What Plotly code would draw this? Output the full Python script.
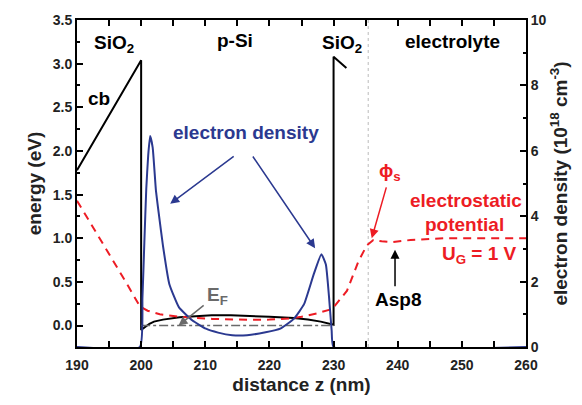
import plotly.graph_objects as go

# ---------------- data ----------------
cb_z = [190, 200, 200, 200.5, 201.3, 202, 203.4, 206, 208, 211, 214, 217, 220, 223.8, 226, 228, 229, 230, 230, 232]
cb_e = [1.78, 3.04, -0.05, -0.02, 0.02, 0.045, 0.068, 0.094, 0.106, 0.117, 0.118, 0.113, 0.10, 0.087, 0.07, 0.045, 0.03, 0.01, 3.08, 2.95]

ef_z = [200, 230]
ef_e = [0, 0]

pot_z = [190, 192, 195, 198, 199.8, 201, 202.9, 206, 211.1, 216.8, 220, 223, 225, 227.4, 229.8, 232.1, 233.9, 235.2, 236.2, 237.5, 239, 242, 247.3, 252, 260]
pot_e = [1.43, 1.19, 0.82, 0.45, 0.22, 0.17, 0.13, 0.10, 0.076, 0.065, 0.068, 0.08, 0.10, 0.14, 0.19, 0.40, 0.74, 0.92, 0.98, 0.965, 0.955, 0.98, 1.0, 1.0, 1.0]

den_z = [190, 199.8, 200.2, 200.5, 200.8, 201.1, 201.4, 201.8, 202.3, 202.8, 203.4, 204.4, 205.9, 208, 210.1, 212, 214.2, 216.5, 219.4, 221.7, 223.8, 225.4, 226.9, 228.1, 228.8, 229.3, 229.7, 230, 260]
den_n = [0, 0, 1.5, 3.2, 4.84, 5.86, 6.45, 6.1, 4.8, 4.0, 3.1, 1.92, 1.21, 0.81, 0.56, 0.44, 0.36, 0.36, 0.45, 0.56, 0.86, 1.31, 2.22, 2.84, 2.52, 1.51, 0.5, 0, 0]

interface_z = 235.4

x_ticks = [190, 200, 210, 220, 230, 240, 250, 260]
y_ticks = [0.0, 0.5, 1.0, 1.5, 2.0, 2.5, 3.0, 3.5]
y2_ticks = [0, 2, 4, 6, 8, 10]

# ---------------- style ----------------
FONT = "Arial, Liberation Sans, sans-serif"
BLUE = "#2B3990"
RED = "#ED1C24"
GRAY = "#6A6A6A"

fig = go.Figure()
fig.add_trace(go.Scatter(x=cb_z, y=cb_e, mode="lines", line=dict(color="black", width=2), showlegend=False))
fig.add_trace(go.Scatter(x=ef_z, y=ef_e, mode="lines", line=dict(color=GRAY, width=1.5, dash="dashdot"), showlegend=False))
fig.add_trace(go.Scatter(x=pot_z, y=pot_e, mode="lines", line=dict(color=RED, width=2, dash="8px,6px"), showlegend=False))
fig.add_trace(go.Scatter(x=den_z, y=den_n, mode="lines", yaxis="y2",
                         line=dict(color=BLUE, width=2, shape="spline", smoothing=0.4), showlegend=False))

fig.add_shape(type="line", xref="x", yref="paper", x0=interface_z, x1=interface_z, y0=0, y1=1,
              line=dict(color="#BBBBBB", width=1, dash="dot"), layer="below")

def txt(x, y, s, color="black", size=19):
    fig.add_annotation(x=x, y=y, xref="x", yref="y", text=s, showarrow=False,
                       font=dict(family=FONT, size=size, color=color, weight="bold"))

def arrow(x0, y0, x1, y1, color):
    fig.add_annotation(x=x1, y=y1, ax=x0, ay=y0, xref="x", yref="y", axref="x", ayref="y",
                       text="", showarrow=True, arrowhead=2, arrowsize=1.2, arrowwidth=1.5, arrowcolor=color)

txt(195.7, 3.22, "SiO<sub>2</sub>")
txt(214.66, 3.26, "p-Si")
txt(231.25, 3.22, "SiO<sub>2</sub>")
txt(248.53, 3.25, "electrolyte")
txt(193.47, 2.60, "cb")
txt(216.37, 2.21, "electron density", BLUE)
txt(211.85, 0.34, "E<sub>F</sub>", GRAY)
txt(238.8, 1.76, "\u03d5<sub>s</sub>", RED)
txt(250.64, 1.43, "electrostatic", RED)
txt(250.48, 1.16, "potential", RED)
txt(252.8, 0.81, "U<sub>G</sub> = 1 V", RED)
txt(240.0, 0.294, "Asp8")

arrow(214.66, 1.95, 204.53, 1.395, BLUE)
arrow(217.26, 1.954, 227.12, 0.886, BLUE)
arrow(209.98, 0.245, 205.83, 0.0, GRAY)
arrow(238.29, 1.60, 235.95, 1.0, RED)
arrow(239.58, 0.433, 239.58, 0.868, "black")

axis_common = dict(showline=True, linecolor="black", linewidth=2, ticks="inside", tickcolor="black",
                   tickwidth=1.5, ticklen=6, showgrid=False, zeroline=False,
                   tickfont=dict(family=FONT, size=14, color="#222", weight="bold"))

fig.update_layout(
    width=582, height=405,
    margin=dict(l=77, r=56, t=17, b=58),
    paper_bgcolor="white", plot_bgcolor="white",
    font=dict(family=FONT, color="#222", weight="bold"),
    xaxis=dict(range=[190, 260], tickvals=x_ticks, mirror="allticks", ticklabelstandoff=4,
               minor=dict(dtick=5, ticks="inside", ticklen=5, tickcolor="black", tickwidth=1.5),
               title=dict(text="distance z (nm)", font=dict(family=FONT, size=19, color="#222", weight="bold"), standoff=6),
               **axis_common),
    yaxis=dict(range=[-0.2456, 3.5], tickvals=y_ticks, ticktext=[f"{v:.1f}" for v in y_ticks],
               minor=dict(dtick=0.25, tick0=0, ticks="inside", ticklen=3, tickcolor="black", tickwidth=1.5),
               title=dict(text="energy (eV)", font=dict(family=FONT, size=19, color="#222", weight="bold"), standoff=6),
               **axis_common),
    yaxis2=dict(range=[0, 10], tickvals=y2_ticks, overlaying="y", side="right",
                minor=dict(dtick=1, ticks="inside", ticklen=3, tickcolor="black", tickwidth=1.5),
                title=dict(text="electron density (10<sup>18</sup> cm<sup>-3</sup>)",
                           font=dict(family=FONT, size=19, color="#222", weight="bold"), standoff=8),
                **axis_common),
)

fig.write_html("out.html")
